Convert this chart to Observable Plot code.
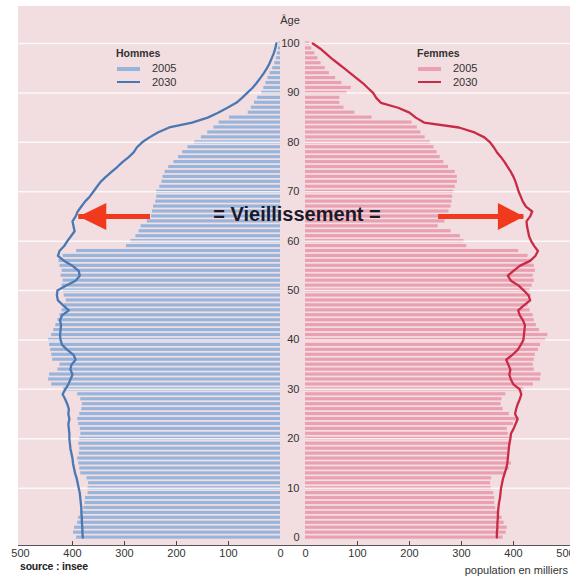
<!DOCTYPE html>
<html><head><meta charset="utf-8">
<script src="https://cdn.jsdelivr.net/npm/d3@7"></script>
<script src="https://cdn.jsdelivr.net/npm/@observablehq/plot@0.6"></script>
<style>
body{margin:0;background:#fff;}
#wrap{position:relative;width:570px;height:576px;overflow:hidden;font-family:"Liberation Sans",Arial,Helvetica,sans-serif;color:#222;}
#bg{position:absolute;left:18px;top:6px;width:552px;height:539px;background:#f2dde0;border-bottom:1px solid #555;}
.plot{position:absolute;top:0;}
.t{position:absolute;white-space:nowrap;line-height:1;}
.sw{position:absolute;}
</style></head>
<body>
<div id="wrap">
  <div id="bg"></div>
  <div id="left" class="plot" style="left:0px"></div>
  <div id="right" class="plot" style="left:280px"></div>
</div>
<script>
// ---- data (population en milliers, par âge 0..100) ----
const ages = d3.range(0, 101);
const hommes2005 = [
  392,398,396,390,388,382,378,376,375,370,
  370,369,372,384,386,388,390,387,386,388,
  386,384,385,388,390,386,382,381,384,390,
  418,440,446,444,428,424,438,440,442,444,
  446,440,436,432,428,424,420,416,412,416,
  418,420,418,422,420,424,426,418,392,296,
  288,278,272,268,256,248,246,244,240,238,
  238,232,228,226,222,215,205,196,188,178,
  165,152,140,128,118,98,62,56,50,44,
  36,32,28,24,20,15,11,8,6,4,3
];
const femmes2005 = [
  380,386,388,382,378,374,366,364,364,362,
  357,356,358,385,392,396,392,390,392,396,
  394,390,388,400,410,392,380,376,378,385,
  420,438,452,453,440,438,440,442,448,452,
  462,466,450,444,440,438,432,428,430,434,
  432,436,440,438,442,440,435,428,410,310,
  305,298,280,255,268,272,276,280,282,283,
  285,288,292,292,288,275,266,259,253,247,
  240,230,222,215,205,128,95,74,66,66,
  80,88,70,58,46,38,30,24,18,12,8
];
const hommes2030 = [
  380,381,381,382,382,383,383,384,385,386,
  388,390,392,395,397,399,400,402,404,405,
  406,406,407,408,406,408,407,410,414,419,
  414,408,404,400,404,402,394,398,410,420,
  423,424,423,422,424,420,407,418,428,430,
  429,412,394,386,388,400,416,428,425,416,
  410,403,396,398,400,394,390,383,376,367,
  360,353,346,336,325,314,304,292,282,276,
  266,252,236,214,170,140,120,102,85,74,
  64,54,46,39,32,26,21,17,13,10,8
];
const femmes2030 = [
  368,368,369,369,370,370,371,372,374,375,
  376,378,380,383,386,388,389,390,391,392,
  394,395,400,404,408,403,405,408,412,415,
  412,400,395,392,394,390,386,398,408,414,
  419,420,421,422,418,412,409,420,432,429,
  420,410,395,389,400,412,432,442,447,440,
  434,430,428,426,425,432,436,424,418,414,
  410,407,404,400,395,389,383,376,368,362,
  355,344,325,295,228,212,200,178,145,136,
  130,120,110,98,86,74,62,50,39,28,14
];
const xTicks = [0, 100, 200, 300, 400, 500];
const xMinorTicks = [100, 200, 300, 400];
const ageTicks = [0, 10, 20, 30, 40, 50, 60, 70, 80, 90, 100];
const gridAges = [10, 20, 30, 40, 50, 60, 70, 80, 90, 100];
const arrowAge = 65;
const arrowHommes = {from: 250, to: 388};
const arrowFemmes = {from: 256, to: 420};
const legendYears = ["2005", "2030"];

const colors = {
  h2005: "#97b5dc", h2030: "#4a78b3",
  f2005: "#eaa0b1", f2030: "#c92b47",
  arrow: "#f0391d", grid: "#ffffff"
};

const yDomain = [-1.6, 100];
const barHalf = 0.32;

const hommes = ages.map((a, i) => ({age: a, v2005: hommes2005[i], v2030: hommes2030[i]}));
const femmes = ages.map((a, i) => ({age: a, v2005: femmes2005[i], v2030: femmes2030[i]}));

const headLeft = {draw(ctx, size) { const r = Math.sqrt(size / Math.PI); ctx.moveTo(0, 0); ctx.lineTo(2.75 * r, -1.35 * r); ctx.lineTo(2.75 * r, 1.35 * r); ctx.closePath(); }};
const headRight = {draw(ctx, size) { const r = Math.sqrt(size / Math.PI); ctx.moveTo(0, 0); ctx.lineTo(-2.6 * r, -1.35 * r); ctx.lineTo(-2.6 * r, 1.35 * r); ctx.closePath(); }};

const style = {background: "transparent", fontFamily: '"Liberation Sans", Arial, Helvetica, sans-serif', fontSize: "11px", color: "#333", overflow: "visible"};

function panel(data, c2005, c2030, reverse, arrow, head, opts) {
  const marks = [
    Plot.rectX(data, {x1: 0, x2: "v2005", y1: d => d.age - barHalf, y2: d => d.age + barHalf, fill: c2005}),
    Plot.ruleY(gridAges, {stroke: colors.grid, strokeWidth: 1.5, strokeOpacity: 0.8, insetLeft: opts.gridInsetLeft, insetRight: opts.gridInsetRight}),
    Plot.line(data, {x: "v2030", y: "age", stroke: c2030, strokeWidth: 2.3, strokeLinejoin: "round"}),
    Plot.ruleY([arrow], {y: () => arrowAge, x1: "from", x2: "to", stroke: colors.arrow, strokeWidth: 5}),
    Plot.dot([arrow], {x: "to", y: () => arrowAge, r: 10, symbol: head, fill: colors.arrow, stroke: null}),
    Plot.ruleX(xMinorTicks, {y1: yDomain[0], y2: yDomain[0] + 0.8, stroke: "#444"}),
    Plot.axisX(xTicks, {tickSize: 0, tickPadding: 4, fontSize: 11, fill: "#333"})
  ];
  if (opts.ageAxis) marks.push(Plot.axisY(ageTicks, {anchor: "left", tickSize: 0, tickPadding: 6, fontSize: 11, fill: "#333"}));
  return Plot.plot({
    width: opts.width, height: 565,
    marginTop: 43, marginBottom: 20, marginLeft: opts.ml, marginRight: opts.mr,
    x: {domain: [0, 500], reverse, label: null},
    y: {domain: yDomain, label: null, axis: null},
    style,
    marks
  });
}

document.getElementById("left").appendChild(
  panel(hommes, colors.h2005, colors.h2030, true, arrowHommes, headLeft, {width: 285, ml: 20, mr: 5, gridInsetLeft: -2, gridInsetRight: 0, ageAxis: false})
);
document.getElementById("right").appendChild(
  panel(femmes, colors.f2005, colors.f2030, false, arrowFemmes, headRight, {width: 290, ml: 25, mr: 5, gridInsetLeft: 0, gridInsetRight: -5, ageAxis: true})
);

// ---- texts, legends ----
const wrap = document.getElementById("wrap");
function addText(txt, css) { const d = document.createElement("div"); d.className = "t"; d.textContent = txt; Object.assign(d.style, css); wrap.appendChild(d); return d; }
function addSwatch(css) { const d = document.createElement("div"); d.className = "sw"; Object.assign(d.style, css); wrap.appendChild(d); }

addText("Âge", {left: "278px", width: "24px", textAlign: "center", top: "15px", fontSize: "11px", color: "#333"});
addText("= Vieillissement =", {left: "197px", width: "200px", textAlign: "center", top: "204px", fontSize: "20px", fontWeight: "bold", color: "#1a1a2a"});

function legend(title, x, c2005, c2030) {
  addText(title, {left: x + "px", top: "48px", fontSize: "10.5px", fontWeight: "bold", color: "#333"});
  addSwatch({left: (x + 1) + "px", top: "67px", width: "23px", height: "4px", background: c2005});
  addSwatch({left: (x + 1) + "px", top: "81px", width: "23px", height: "2px", background: c2030});
  addText(legendYears[0], {left: (x + 36) + "px", top: "63px", fontSize: "11px", color: "#333"});
  addText(legendYears[1], {left: (x + 36) + "px", top: "77px", fontSize: "11px", color: "#333"});
}
legend("Hommes", 116, colors.h2005, colors.h2030);
legend("Femmes", 417, colors.f2005, colors.f2030);

addText("source : insee", {left: "20px", top: "561px", fontSize: "10.5px", fontWeight: "bold", color: "#222", letterSpacing: "-0.2px"});
addText("population en milliers", {right: "2px", top: "565px", fontSize: "11px", color: "#333"});
</script>
</body></html>
